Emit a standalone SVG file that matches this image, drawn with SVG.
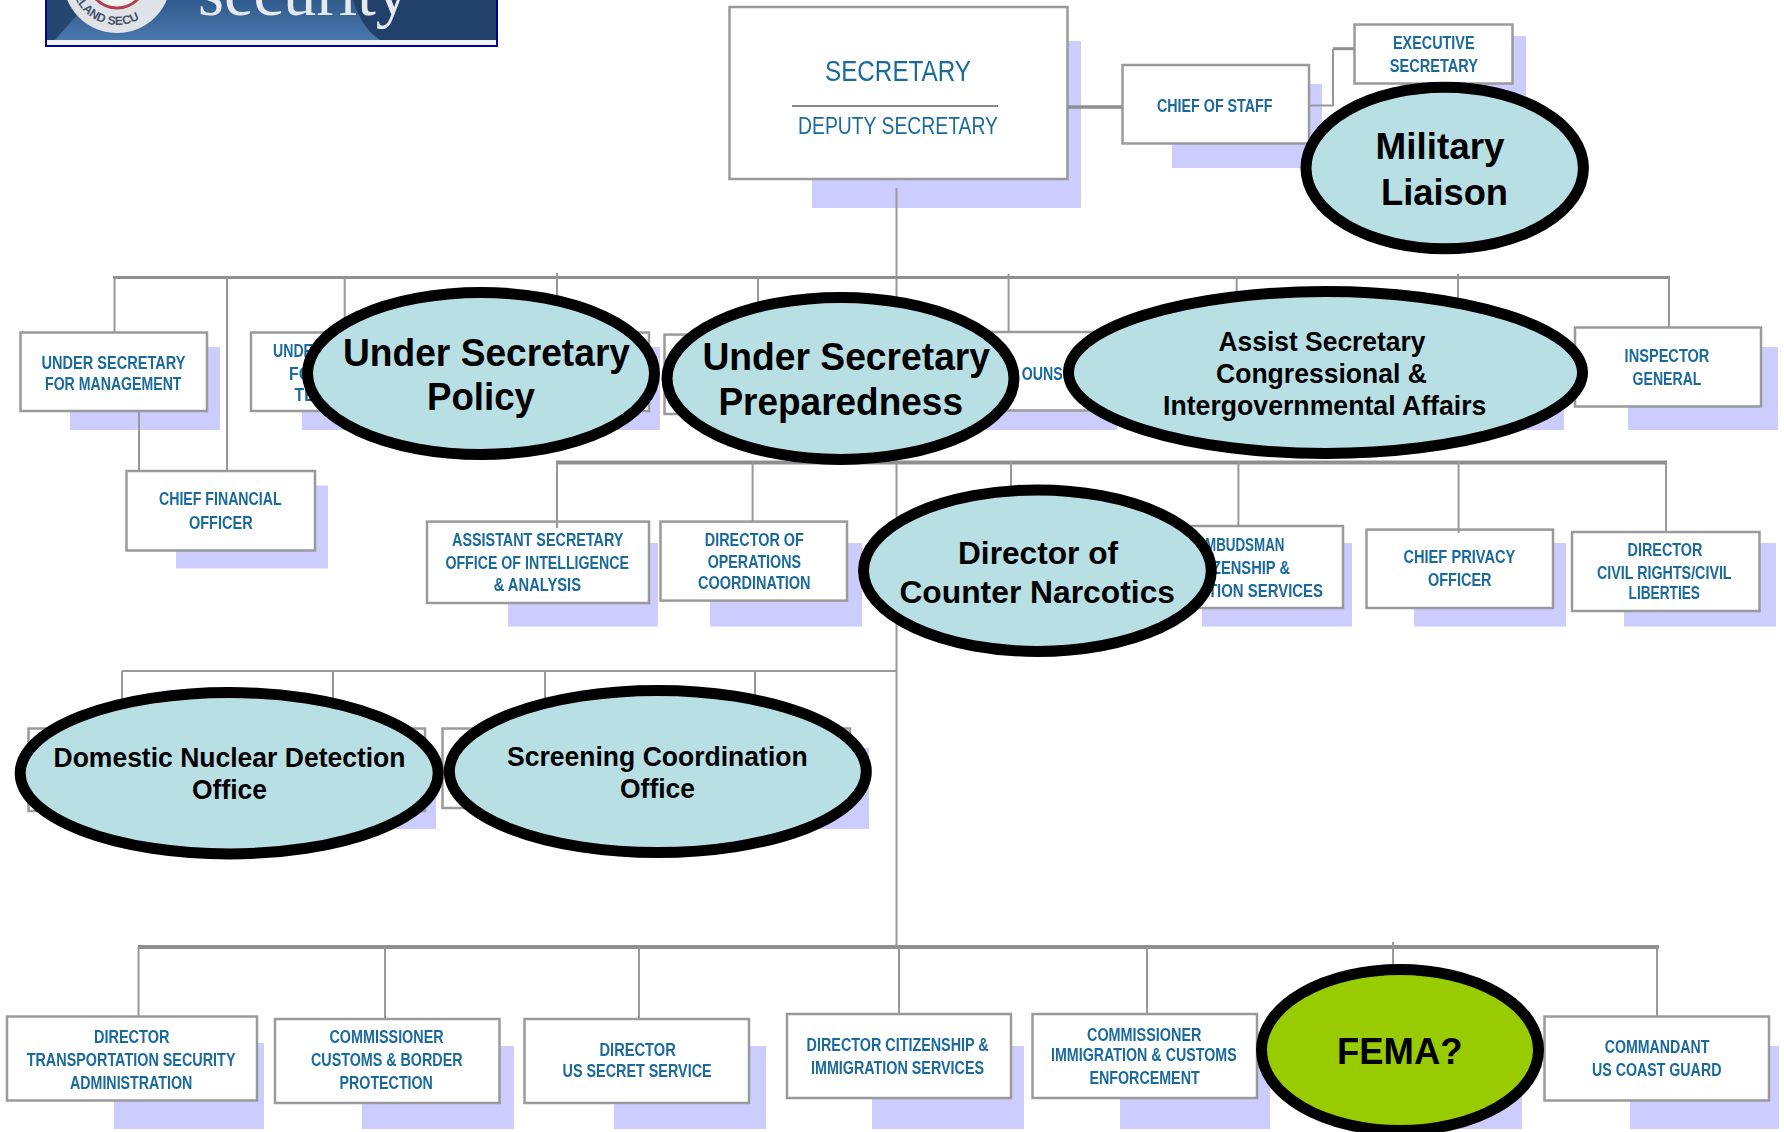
<svg xmlns="http://www.w3.org/2000/svg" xmlns:xlink="http://www.w3.org/1999/xlink" width="1784" height="1132" viewBox="0 0 1784 1132">
<style>
text{font-family:"Liberation Sans",Arial,sans-serif}
.b{fill:#fff;stroke:#9a9a9a;stroke-width:2.5}
.s{fill:#ccccff}
.l{fill:none;stroke:#999;stroke-width:2}
.h{fill:none;stroke:#8f8f8f;stroke-width:4}
.t{font-size:18px;font-weight:700;fill:#1a6a9c}
.g{filter:url(#soft)}
.e{fill:#b8dfe3;stroke:#000;stroke-width:11}
.f{fill:#99cc00;stroke:#000;stroke-width:11}
.k{font-weight:700;fill:#000}
</style>
<defs>
<filter id="soft" x="-5%" y="-20%" width="110%" height="140%"><feGaussianBlur stdDeviation="0.55"/></filter>
<linearGradient id="bn" x1="0" y1="0" x2="0" y2="1"><stop offset="0" stop-color="#2f5a8c"/><stop offset="1" stop-color="#4a77ad"/></linearGradient>
<path id="arc" d="M72 -11.500A46 46 0 0 0 162 -11.500"/>
</defs>
<rect width="1784" height="1132" fill="#fff"/>
<g id="logo">
<rect x="46" y="0" width="451" height="46" fill="#f0f3f3" stroke="#0000a0" stroke-width="2"/>
<rect x="47" y="0" width="449" height="40" fill="url(#bn)"/>
<path d="M47 0H90L55 40H47Z" fill="#24476f"/>
<path d="M353 0C358 15 365 30 380 40H496V0Z" fill="#21406a"/>
<circle cx="117" cy="-21" r="54" fill="#dfe3e8"/>
<circle cx="117" cy="-21" r="29" fill="#f3f3f3" stroke="#b04050" stroke-width="3"/>
<text font-size="12" font-weight="700" fill="#44506a"><textPath xlink:href="#arc" startOffset="8">ELAND SECU</textPath></text>
<text x="198" y="15" font-size="67" textLength="211" lengthAdjust="spacingAndGlyphs" fill="#e6eaee" style="font-family:'Liberation Serif',serif">security</text>
</g>
<g id="secretary">
<rect class="s" x="812" y="41" width="269" height="167"/>
<rect class="b" x="729.500" y="7" width="338" height="172"/>
<path d="M792 106H998" stroke="#888" stroke-width="2"/>
<g class="g" fill="#1a6a9c">
<text x="825" y="81" font-size="30" textLength="146" lengthAdjust="spacingAndGlyphs">SECRETARY</text>
<text x="798" y="134" font-size="24" textLength="200" lengthAdjust="spacingAndGlyphs">DEPUTY SECRETARY</text>
</g></g>
<g id="chief-of-staff"><rect class="s" x="1172" y="84" width="150" height="84"/><rect class="b" x="1122.500" y="65" width="186.500" height="78.500"/>
<g class="g"><text class="t" x="1157" y="112" textLength="115.500" lengthAdjust="spacingAndGlyphs">CHIEF OF STAFF</text></g></g>
<g id="executive-secretary"><rect class="s" x="1400" y="36" width="126" height="60"/><rect class="b" x="1354.500" y="24.500" width="158" height="59"/>
<g class="g"><text class="t" x="1393" y="48.700" textLength="81.500" lengthAdjust="spacingAndGlyphs">EXECUTIVE</text><text class="t" x="1389.700" y="71.500" textLength="88.300" lengthAdjust="spacingAndGlyphs">SECRETARY</text></g></g>
<g id="under-secretary-management"><rect class="s" x="70" y="347" width="150" height="83"/><rect class="b" x="20.500" y="332.500" width="186.500" height="78.500"/>
<g class="g"><text class="t" x="41.500" y="369" textLength="144" lengthAdjust="spacingAndGlyphs">UNDER SECRETARY</text><text class="t" x="45" y="390" textLength="136.500" lengthAdjust="spacingAndGlyphs">FOR MANAGEMENT</text></g></g>
<g id="chief-financial-officer"><rect class="s" x="176" y="485.500" width="152" height="83"/><rect class="b" x="126.500" y="471" width="188.500" height="79.500"/>
<g class="g"><text class="t" x="159" y="505.400" textLength="122.600" lengthAdjust="spacingAndGlyphs">CHIEF FINANCIAL</text><text class="t" x="189" y="529" textLength="63.600" lengthAdjust="spacingAndGlyphs">OFFICER</text></g></g>
<g id="under-secretary-hidden-a"><rect class="s" x="302" y="347" width="155" height="83"/><rect class="b" x="251" y="332.500" width="190" height="78.500"/>
<g class="g"><text class="t" x="273" y="357.400" textLength="40" lengthAdjust="spacingAndGlyphs">UNDE</text><text class="t" x="289" y="380" textLength="22" lengthAdjust="spacingAndGlyphs">FO</text><text class="t" x="294.600" y="400.700" textLength="20" lengthAdjust="spacingAndGlyphs">TE</text></g></g>
<g id="under-secretary-hidden-b"><rect class="s" x="510" y="347" width="150" height="83"/><rect class="b" x="463" y="332.500" width="186" height="78.500"/></g>
<g id="under-secretary-hidden-c"><rect class="b" x="664.500" y="334.600" width="186" height="79.400"/></g>
<g id="general-counsel"><rect class="s" x="980" y="347" width="137" height="83"/><rect class="b" x="930" y="332" width="173" height="78.500"/>
<g class="g"><text class="t" x="1021.700" y="380" textLength="41" lengthAdjust="spacingAndGlyphs">OUNS</text></g></g>
<g id="hidden-d"><rect class="s" x="1414" y="347" width="150" height="83"/><rect class="b" x="1370" y="332" width="180" height="78"/></g>
<g id="inspector-general"><rect class="s" x="1628" y="347" width="150" height="83"/><rect class="b" x="1575" y="327.500" width="186" height="79"/>
<g class="g"><text class="t" x="1624.600" y="362" textLength="84.800" lengthAdjust="spacingAndGlyphs">INSPECTOR</text><text class="t" x="1632.600" y="385" textLength="68.800" lengthAdjust="spacingAndGlyphs">GENERAL</text></g></g>
<g id="intelligence-analysis"><rect class="s" x="508" y="543" width="150" height="83.600"/><rect class="b" x="427" y="521.600" width="222" height="81.400"/>
<g class="g"><text class="t" x="452" y="546" textLength="171.400" lengthAdjust="spacingAndGlyphs">ASSISTANT SECRETARY</text><text class="t" x="445.400" y="568.500" textLength="183.600" lengthAdjust="spacingAndGlyphs">OFFICE OF INTELLIGENCE</text><text class="t" x="493.700" y="591" textLength="87.300" lengthAdjust="spacingAndGlyphs">&amp;  ANALYSIS</text></g></g>
<g id="operations-coordination"><rect class="s" x="710" y="543" width="152" height="83.600"/><rect class="b" x="660.500" y="521.600" width="186.500" height="79"/>
<g class="g"><text class="t" x="704.800" y="546" textLength="99" lengthAdjust="spacingAndGlyphs">DIRECTOR OF</text><text class="t" x="707.700" y="568" textLength="93.300" lengthAdjust="spacingAndGlyphs">OPERATIONS</text><text class="t" x="698" y="588.700" textLength="112.600" lengthAdjust="spacingAndGlyphs">COORDINATION</text></g></g>
<g id="ombudsman"><rect class="s" x="1202" y="543" width="150" height="83.600"/><rect class="b" x="1160" y="526" width="183" height="82"/>
<g class="g"><text class="t" x="1205" y="551" textLength="79.500" lengthAdjust="spacingAndGlyphs">MBUDSMAN</text><text class="t" x="1212" y="574" textLength="78" lengthAdjust="spacingAndGlyphs">ZENSHIP &amp;</text><text class="t" x="1208" y="597" textLength="115" lengthAdjust="spacingAndGlyphs">TION SERVICES</text></g></g>
<g id="chief-privacy-officer"><rect class="s" x="1414" y="543" width="152" height="83.600"/><rect class="b" x="1366.500" y="529.600" width="186.500" height="78.400"/>
<g class="g"><text class="t" x="1403.400" y="563" textLength="112" lengthAdjust="spacingAndGlyphs">CHIEF PRIVACY</text><text class="t" x="1428" y="586" textLength="63.500" lengthAdjust="spacingAndGlyphs">OFFICER</text></g></g>
<g id="civil-rights"><rect class="s" x="1624" y="543" width="152" height="83.600"/><rect class="b" x="1572" y="532" width="187.500" height="79"/>
<g class="g"><text class="t" x="1627.500" y="556" textLength="75" lengthAdjust="spacingAndGlyphs">DIRECTOR</text><text class="t" x="1597" y="579" textLength="134.600" lengthAdjust="spacingAndGlyphs">CIVIL RIGHTS/CIVIL</text><text class="t" x="1628.600" y="598.500" textLength="71.400" lengthAdjust="spacingAndGlyphs">LIBERTIES</text></g></g>
<g id="hidden-e"><rect class="b" x="28.500" y="728.500" width="186" height="82.500"/></g>
<g id="hidden-f"><rect class="s" x="290" y="748" width="146" height="81"/><rect class="b" x="240" y="728.500" width="185" height="82.500"/></g>
<g id="hidden-g"><rect class="b" x="442.500" y="728.500" width="186" height="79.500"/></g>
<g id="hidden-h"><rect class="s" x="714" y="748" width="155" height="81"/><rect class="b" x="664" y="728.500" width="186" height="79.500"/></g>
<g id="transportation-security"><rect class="s" x="114" y="1043" width="150" height="86"/><rect class="b" x="7" y="1016.500" width="250" height="84"/>
<g class="g"><text class="t" x="93.900" y="1043" textLength="75.600" lengthAdjust="spacingAndGlyphs">DIRECTOR</text><text class="t" x="26.700" y="1066" textLength="208.800" lengthAdjust="spacingAndGlyphs">TRANSPORTATION SECURITY</text><text class="t" x="70" y="1089" textLength="122.300" lengthAdjust="spacingAndGlyphs">ADMINISTRATION</text></g></g>
<g id="customs-border"><rect class="s" x="362" y="1046" width="152" height="83"/><rect class="b" x="275" y="1019" width="224.500" height="84"/>
<g class="g"><text class="t" x="329.400" y="1043" textLength="114.300" lengthAdjust="spacingAndGlyphs">COMMISSIONER</text><text class="t" x="311" y="1066" textLength="151.500" lengthAdjust="spacingAndGlyphs">CUSTOMS &amp; BORDER</text><text class="t" x="339.600" y="1089" textLength="93.300" lengthAdjust="spacingAndGlyphs">PROTECTION</text></g></g>
<g id="secret-service"><rect class="s" x="614" y="1046" width="152" height="83"/><rect class="b" x="524.500" y="1019" width="224.500" height="84"/>
<g class="g"><text class="t" x="599.500" y="1055.500" textLength="76.300" lengthAdjust="spacingAndGlyphs">DIRECTOR</text><text class="t" x="562.600" y="1076.500" textLength="149" lengthAdjust="spacingAndGlyphs">US SECRET SERVICE</text></g></g>
<g id="citizenship-immigration"><rect class="s" x="872" y="1046" width="152" height="83"/><rect class="b" x="787" y="1014" width="224" height="84"/>
<g class="g"><text class="t" x="806.600" y="1051" textLength="182.100" lengthAdjust="spacingAndGlyphs">DIRECTOR CITIZENSHIP &amp;</text><text class="t" x="811" y="1073.600" textLength="173" lengthAdjust="spacingAndGlyphs">IMMIGRATION SERVICES</text></g></g>
<g id="immigration-customs"><rect class="s" x="1120" y="1046" width="150" height="83"/><rect class="b" x="1032.500" y="1014" width="224.500" height="84"/>
<g class="g"><text class="t" x="1087" y="1040.700" textLength="114.400" lengthAdjust="spacingAndGlyphs">COMMISSIONER</text><text class="t" x="1051" y="1061" textLength="185.700" lengthAdjust="spacingAndGlyphs">IMMIGRATION &amp; CUSTOMS</text><text class="t" x="1089.400" y="1083.700" textLength="110.300" lengthAdjust="spacingAndGlyphs">ENFORCEMENT</text></g></g>
<g id="hidden-i"><rect class="s" x="1370" y="1046" width="152" height="83"/></g>
<g id="coast-guard"><rect class="s" x="1630" y="1046" width="149" height="83"/><rect class="b" x="1544.500" y="1016.500" width="224.500" height="84"/>
<g class="g"><text class="t" x="1604.700" y="1053.400" textLength="104.700" lengthAdjust="spacingAndGlyphs">COMMANDANT</text><text class="t" x="1592" y="1076" textLength="129.400" lengthAdjust="spacingAndGlyphs">US COAST GUARD</text></g></g>
<g id="connectors">
<path class="l" d="M896.500 188V947"/>
<path class="h" style="stroke-width:3.500" d="M1067 107H1122"/>
<path class="l" d="M1309 105.400H1333M1333 106V49"/>
<path class="h" style="stroke-width:3" d="M1333 48.700H1354"/>
<path class="h" style="stroke-width:3" d="M113 277.600H1670"/>
<path class="l" d="M114.500 277V333M227 277V471M344.700 277V340M557 273V320M758 277V330M1008.600 274V332M1236.700 277V320M1458 274V320M1669 277V327M139 411V471"/>
<path class="h" d="M556 462.500H1667"/>
<path class="l" d="M557 462V528M752.600 462V522M1011 462V510M1238.400 462V526M1458.600 462V533M1666 462V532"/>
<path class="l" d="M122 671H896M122 671V710M333 671V710M545 671V710M755 671V710"/>
<path class="h" d="M138 947H1659"/>
<path class="l" d="M138.500 947V1017M385 947V1019M639 947V1019M899 947V1014M1147 947V1014M1393 942V985M1657 947V1017"/>
</g>
<g id="military-liaison"><ellipse class="e" cx="1444.700" cy="168" rx="138.700" ry="80.700"/><text class="k" x="1375.500" y="159" font-size="36" textLength="129" lengthAdjust="spacingAndGlyphs">Military</text><text class="k" x="1381" y="204.500" font-size="36" textLength="127" lengthAdjust="spacingAndGlyphs">Liaison</text></g>
<g id="under-secretary-policy"><ellipse class="e" cx="481" cy="373.500" rx="173.500" ry="81"/><text class="k" x="343" y="365.600" font-size="38" textLength="287" lengthAdjust="spacingAndGlyphs">Under Secretary</text><text class="k" x="427" y="410.200" font-size="38" textLength="108" lengthAdjust="spacingAndGlyphs">Policy</text></g>
<g id="under-secretary-preparedness"><ellipse class="e" cx="840.500" cy="378.400" rx="173.500" ry="81"/><text class="k" x="702.500" y="370" font-size="38" textLength="287.500" lengthAdjust="spacingAndGlyphs">Under Secretary</text><text class="k" x="718.400" y="415" font-size="38" textLength="244.600" lengthAdjust="spacingAndGlyphs">Preparedness</text></g>
<g id="assist-secretary"><ellipse class="e" cx="1325.500" cy="372.500" rx="257" ry="81"/><text class="k" x="1218.500" y="351" font-size="27" textLength="207" lengthAdjust="spacingAndGlyphs">Assist Secretary</text><text class="k" x="1216" y="382.700" font-size="27" textLength="211" lengthAdjust="spacingAndGlyphs">Congressional &amp;</text><text class="k" x="1163" y="414.800" font-size="27" textLength="323.400" lengthAdjust="spacingAndGlyphs">Intergovernmental Affairs</text></g>
<g id="counter-narcotics"><ellipse class="e" cx="1037.400" cy="570.700" rx="173.900" ry="80.700"/><text class="k" x="958" y="563.500" font-size="32" textLength="160" lengthAdjust="spacingAndGlyphs">Director of</text><text class="k" x="899.400" y="602.500" font-size="32" textLength="275.600" lengthAdjust="spacingAndGlyphs">Counter Narcotics</text></g>
<g id="domestic-nuclear"><ellipse class="e" cx="229.200" cy="773.200" rx="209" ry="80.700"/><text class="k" x="53.500" y="767" font-size="27" textLength="352" lengthAdjust="spacingAndGlyphs">Domestic Nuclear Detection</text><text class="k" x="192" y="799" font-size="27" textLength="75" lengthAdjust="spacingAndGlyphs">Office</text></g>
<g id="screening-coordination"><ellipse class="e" cx="657.800" cy="771.500" rx="208.500" ry="81"/><text class="k" x="507" y="766" font-size="27" textLength="300.700" lengthAdjust="spacingAndGlyphs">Screening Coordination</text><text class="k" x="620" y="798" font-size="27" textLength="75" lengthAdjust="spacingAndGlyphs">Office</text></g>
<g id="fema"><ellipse class="f" cx="1400" cy="1050" rx="138.500" ry="80.500"/><text class="k" x="1337" y="1063.500" font-size="37" textLength="125.500" lengthAdjust="spacingAndGlyphs">FEMA?</text></g>
</svg>
